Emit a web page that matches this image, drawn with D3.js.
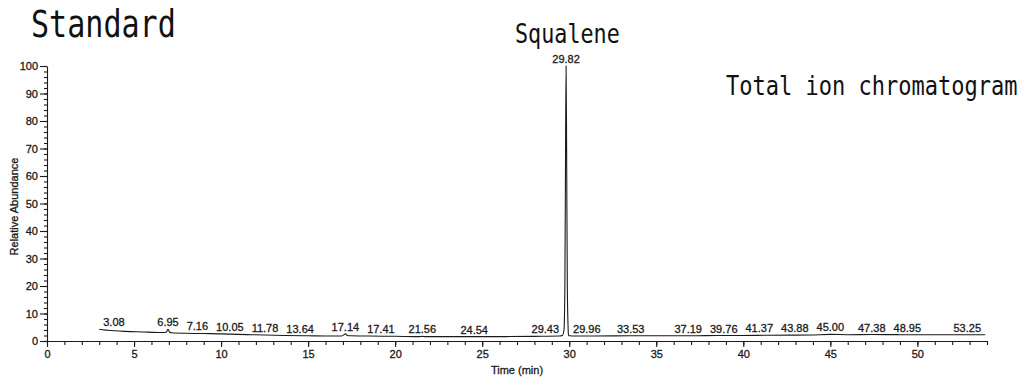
<!DOCTYPE html>
<html><head><meta charset="utf-8">
<script src="https://cdn.jsdelivr.net/npm/d3@7"></script>
<style>
html,body{margin:0;padding:0;background:#fff;}
svg{display:block;}
</style></head>
<body>
<svg id="chart" width="1029" height="379"></svg>
<script>
// Total ion chromatogram trace: retention time (min) and relative abundance (%)
const traceTime = [3.00, 3.08, 3.5, 4.5, 5.5, 6.5, 6.85, 6.95, 7.05, 7.16, 8, 9, 10.05, 11, 11.78, 12.5, 13.64,
  15, 16, 16.9, 17.05, 17.14, 17.25, 17.41, 18.5, 20, 21.4, 21.56, 21.7, 23, 24.54, 26, 28, 29.43, 29.6,
  29.7, 29.75, 29.79, 29.82, 29.85, 29.89, 29.94, 29.96, 30.05, 30.2, 31.5, 33.53, 35, 37.19, 38.5, 39.76,
  41.37, 43.88, 45.0, 46, 47.38, 48.95, 50.5, 52, 53.25, 53.9];
const traceAbundance = [4.3, 4.2, 3.9, 3.5, 3.3, 3.1, 3.2, 4.3, 3.2, 3.0, 2.8, 2.7, 2.6, 2.4, 2.3, 2.2, 2.0,
  1.9, 1.8, 1.8, 2.2, 2.6, 2.0, 1.9, 1.8, 1.7, 1.6, 1.7, 1.6, 1.6, 1.6, 1.6, 1.7, 1.8, 2.0,
  4, 20, 70, 100, 70, 20, 4, 2.0, 1.9, 1.8, 1.8, 1.9, 1.9, 1.9, 2.0, 2.0,
  2.1, 2.2, 2.4, 2.3, 2.35, 2.3, 2.3, 2.3, 2.3, 2.3];

// Labelled minor peaks along the baseline (retention times, min)
const peakTimes = [3.08, 6.95, 7.16, 10.05, 11.78, 13.64, 17.14, 17.41, 21.56, 24.54, 29.43,
  29.96, 33.53, 37.19, 39.76, 41.37, 43.88, 45.00, 47.38, 48.95, 53.25];
// Base peak (squalene)
const apexTime = 29.82;

const xMajorTicks = [0, 5, 10, 15, 20, 25, 30, 35, 40, 45, 50];
const yMajorTicks = [0, 10, 20, 30, 40, 50, 60, 70, 80, 90, 100];

const svg = d3.select("#chart");
const x = d3.scaleLinear().domain([0, 54]).range([47, 987]);
const y = d3.scaleLinear().domain([0, 100]).range([341, 66]);

const ink = "#1a1a1a";
const sans = "'Liberation Sans', Arial, Helvetica, sans-serif";
const mono = "'DejaVu Sans Mono', monospace";

// slightly heavy sans text, like a printed instrument report
function sansStyle(sel, size) {
  return sel.style("font-family", sans).style("font-size", size + "px")
    .attr("fill", ink).attr("stroke", ink).attr("stroke-width", 0.3);
}

// ---- axes ----
const gx = svg.append("g").attr("transform", `translate(0,${y(0)})`);
gx.append("g")
  .call(d3.axisBottom(x).tickValues(d3.range(0, 55, 1)).tickSize(4).tickSizeOuter(0).tickFormat(""))
  .call(g => g.select(".domain").remove());
gx.append("g")
  .call(d3.axisBottom(x).tickValues(xMajorTicks).tickSize(6).tickSizeOuter(0).tickPadding(3).tickFormat(d3.format("d")));

const gy = svg.append("g").attr("transform", `translate(${x(0)},0)`);
gy.append("g")
  .call(d3.axisLeft(y).tickValues(d3.range(0, 101, 2)).tickSize(3).tickSizeOuter(0).tickFormat(""))
  .call(g => g.select(".domain").remove());
gy.append("g")
  .call(d3.axisLeft(y).tickValues(yMajorTicks).tickSize(7).tickSizeOuter(0).tickPadding(2).tickFormat(d3.format("d")));

svg.selectAll(".tick line, .domain").attr("stroke", ink).attr("stroke-width", 1.1);
sansStyle(svg.selectAll(".tick text"), 11);

sansStyle(svg.append("text")
  .attr("transform", `translate(18,${(y(0) + y(100)) / 2 + 3}) rotate(-90)`)
  .attr("text-anchor", "middle"), 11)
  .text("Relative Abundance");

sansStyle(svg.append("text")
  .attr("x", (x(0) + x(54)) / 2).attr("y", 374)
  .attr("text-anchor", "middle"), 11)
  .text("Time (min)");

// ---- trace ----
const trace = traceTime.map((t, i) => ({ t, a: traceAbundance[i] }));
svg.append("path")
  .datum(trace)
  .attr("fill", "none")
  .attr("stroke", ink)
  .attr("stroke-width", 1.1)
  .attr("d", d3.line().x(d => x(d.t)).y(d => y(d.a)).curve(d3.curveMonotoneX));

// abundance of the trace at a given time
const bisect = d3.bisector(d => d).left;
function abundanceAt(t) {
  const i = Math.max(1, Math.min(traceTime.length - 1, bisect(traceTime, t)));
  const t0 = traceTime[i - 1], t1 = traceTime[i];
  const k = (t - t0) / (t1 - t0);
  return traceAbundance[i - 1] + k * (traceAbundance[i] - traceAbundance[i - 1]);
}

// ---- base peak label ----
sansStyle(svg.append("text")
  .attr("x", x(apexTime)).attr("y", y(abundanceAt(apexTime)) - 3)
  .attr("text-anchor", "middle"), 11)
  .text(apexTime.toFixed(2));

// ---- minor peak labels, placed by intensity to avoid collisions ----
const gap = 8;
const labels = peakTimes.map(t => ({ t, h: abundanceAt(t), text: t.toFixed(2) }));
const lg = svg.append("g");
labels.forEach(l => {
  l.node = sansStyle(lg.append("text").attr("text-anchor", "middle"), 11).text(l.text);
  l.w = l.node.node().getComputedTextLength();
});

// obstacles: start of trace, the base-peak line, end of axis
const occupied = [
  { l: -1e9, r: x(traceTime[0]) - gap + 4 },
  { l: x(apexTime) + 1, r: x(apexTime) - 1 },
  { l: x(54) + 2, r: 1e9 }
];
const order = labels.slice().sort((a, b) => d3.descending(a.h, b.h) || d3.ascending(a.t, b.t));
order.forEach(l => {
  const c0 = x(l.t), hw = l.w / 2;
  const cands = [c0];
  occupied.forEach(o => { cands.push(o.l - gap - hw, o.r + gap + hw); });
  const free = c => occupied.every(o => c + hw + gap <= o.l + 1e-6 || c - hw - gap >= o.r - 1e-6);
  let best = null;
  cands.filter(free).forEach(c => { if (best === null || Math.abs(c - c0) < Math.abs(best - c0)) best = c; });
  if (best === null) best = c0;
  l.cx = best;
  occupied.push({ l: best - hw, r: best + hw });
});
labels.forEach(l => l.node.attr("x", l.cx).attr("y", y(l.h) - 3));

// ---- titles ----
function monoText(str, px, size, sx, base) {
  svg.append("text")
    .attr("transform", `translate(${px},${base}) scale(${sx},1)`)
    .style("font-family", mono).style("font-size", size + "px").attr("fill", "#111")
    .text(str);
}
monoText("Standard", 31, 37, 0.813, 37);
monoText("Squalene", 515, 27, 0.806, 43);
monoText("Total ion chromatogram", 726, 27, 0.816, 95);
</script>
</body></html>
